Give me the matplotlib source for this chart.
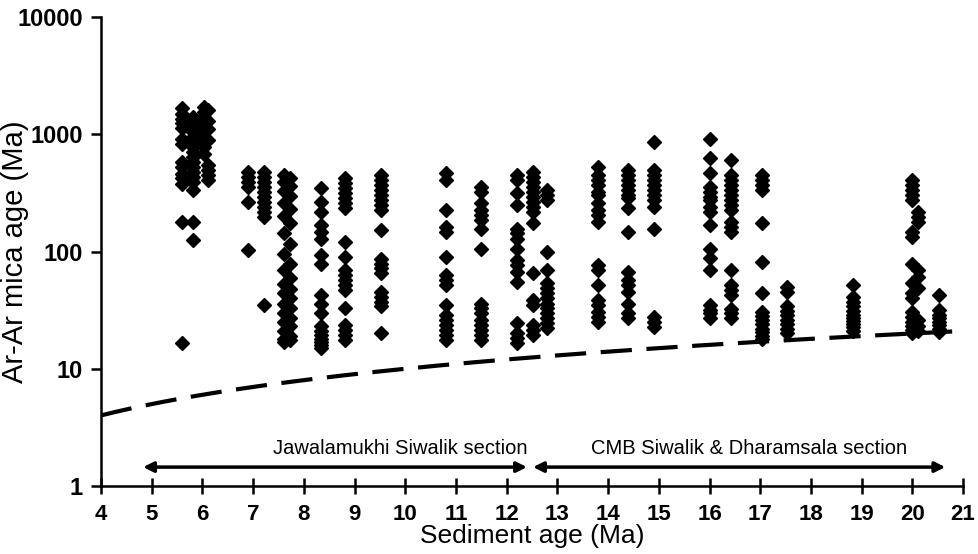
import numpy as np
import matplotlib
matplotlib.use("Agg")
from matplotlib import pyplot as plt
from matplotlib.ticker import FixedLocator, FixedFormatter, NullLocator

# Ar-Ar mica ages (Ma) per sample, keyed by sediment age (Ma)
c5_6 = [1660, 1500, 1360, 1240, 1120, 920, 830, 580, 530, 460, 420, 380, 180, 16.5]
c5_8 = [1410, 1275, 1160, 1050, 950, 860, 780, 710, 640, 580, 530, 478, 433, 393, 334, 180, 125]
c6_0 = [1710, 1550, 1410, 1275, 1160, 1050, 950, 860, 780, 685]
c6_1 = [1600, 1300, 1100, 900, 545, 494, 448, 406]
c6_9 = [478, 433, 393, 356, 265, 103]
c7_2 = [478, 433, 393, 356, 323, 292, 265, 240, 218, 197, 35]
c7_6 = [450, 390, 330, 257, 200, 143, 96, 69, 53, 44, 36, 30, 25, 21, 18, 17]
c7_7 = [420, 360, 300, 230, 174, 117, 79, 60, 48, 40, 33, 27, 23, 19, 17.5]
c8_3 = [345, 265, 218, 168, 147, 129, 93, 79, 42.5, 36, 30, 23, 21, 19.5, 18, 17, 16, 15]
c8_8 = [420, 381, 345, 313, 284, 257, 233, 121, 90, 69, 63, 57, 52, 47, 33, 23.6, 21.4, 19.4, 17.6]
c9_5 = [448, 406, 368, 334, 303, 274, 249, 226, 152, 87, 79, 72, 65, 45, 41, 37, 34, 20]
c10_8 = [463, 406, 226, 163, 147, 90, 63, 57, 52, 35, 28.7, 26, 23.6, 21.4, 19.4, 17.6]
c11_5 = [356, 323, 257, 226, 204, 185, 157, 106, 36, 33, 30, 26, 23.6, 21.4, 19.4, 17.6]
c12_2 = [448, 406, 313, 249, 157, 143, 129, 106, 84.5, 76.6, 67, 55, 24.4, 20, 18.2, 16.5]
c12_5 = [478, 433, 393, 356, 323, 292, 265, 240, 218, 174, 65, 38.5, 35, 23.6, 21.4, 19.4]
c12_8 = [334, 303, 274, 99, 69, 53.5, 48.5, 44, 40, 36, 33, 30, 27, 24.4, 22.1]
c13_8 = [527, 448, 406, 368, 323, 303, 257, 226, 204, 179, 76.6, 69, 52, 38.5, 35, 30.6, 27.7, 25.2]
c14_4 = [494, 448, 406, 368, 334, 303, 284, 233, 147, 67, 57, 52, 45, 36, 30, 27]
c14_9 = [860, 494, 448, 406, 368, 334, 303, 274, 240, 157, 27.7, 25.2, 22.8]
c16_0 = [920, 622, 463, 356, 323, 292, 274, 240, 218, 168, 106, 87.5, 69, 35, 31.8, 30, 27]
c16_4 = [601, 448, 406, 368, 334, 303, 274, 249, 226, 179, 163, 147, 69, 52, 47, 42.5, 32.5, 30, 27]
c17_0 = [448, 406, 368, 334, 174, 81.7, 44, 30.6, 28, 26, 24, 22, 20.5, 19, 18]
c17_5 = [50, 45, 34, 31, 28.5, 26, 24, 22, 20]
c18_8 = [52, 41, 37, 34, 31, 29, 27, 25.5, 24, 22.8, 21]
c20_0 = [406, 368, 334, 303, 274, 147, 133, 79, 53.5, 44, 40, 30.6, 27.7, 25, 23, 21.5, 20]
c20_1 = [218, 197, 179, 69, 60.5, 48.5, 26, 23, 21]
c20_5 = [42.5, 31.8, 29, 27, 25, 23.5, 22, 20.5]

sed_ages = [5.6, 5.82, 6.03, 6.1, 6.9, 7.22, 7.6, 7.72, 8.33, 8.82, 9.52, 10.81, 11.5,
            12.21, 12.51, 12.8, 13.81, 14.4, 14.91, 16.0, 16.43, 17.03, 17.52, 18.83,
            19.99, 20.12, 20.52]
mica_ages = [c5_6, c5_8, c6_0, c6_1, c6_9, c7_2, c7_6, c7_7, c8_3, c8_8, c9_5, c10_8, c11_5,
             c12_2, c12_5, c12_8, c13_8, c14_4, c14_9, c16_0, c16_4, c17_0, c17_5, c18_8,
             c20_0, c20_1, c20_5]

# zero lag-time line
lag_x = [4, 21]

y_ticks = [1, 10, 100, 1000, 10000]
y_labels = ["1", "10", "100", "1000", "10000"]
x_ticks = list(range(4, 22))

plt.rcParams['font.family'] = ['Liberation Sans', 'DejaVu Sans']

fig = plt.figure(figsize=(9.79, 5.54), dpi=100)
ax = fig.add_axes([0.1032, 0.1227, 0.8805, 0.8466])

xs = []
ys = []
for sx, ages in zip(sed_ages, mica_ages):
    xs += [sx] * len(ages)
    ys += ages
ax.plot(xs, ys, linestyle='none', marker='D', markersize=7, color='black', zorder=3)

lx = np.linspace(lag_x[0], lag_x[1], 200)
ax.plot(lx, lx, color='black', lw=3, linestyle=(0, (7.5, 3.5)), zorder=2)

ax.set_yscale('log')
ax.set_xlim(4, 21)
ax.set_ylim(1, 10000)
ax.yaxis.set_major_locator(FixedLocator(y_ticks))
ax.yaxis.set_major_formatter(FixedFormatter(y_labels))
ax.yaxis.set_minor_locator(NullLocator())
ax.set_xticks(x_ticks)

for s in ['top', 'right']:
    ax.spines[s].set_visible(False)
for s in ['left', 'bottom']:
    ax.spines[s].set_linewidth(1.8)
ax.tick_params(axis='y', direction='out', length=7, width=1.8, labelsize=17, pad=6)
ax.tick_params(axis='x', direction='inout', length=12, width=1.8, labelsize=16, pad=7)
for lab in ax.get_xticklabels() + ax.get_yticklabels():
    lab.set_fontweight('bold')

ax.set_xlabel("Sediment age (Ma)", fontsize=19)
ax.xaxis.set_label_coords(0.5, -0.082)
ax.set_ylabel("Ar-Ar mica age (Ma)", fontsize=21, va='center')
ax.yaxis.set_label_coords(-0.1, 0.5)

# section arrows
ax.annotate('', xy=(4.83, 1.45), xytext=(12.4, 1.45),
            arrowprops=dict(arrowstyle='<|-|>', color='black', lw=2.5, mutation_scale=15,
                            shrinkA=0, shrinkB=0))
ax.annotate('', xy=(12.52, 1.45), xytext=(20.65, 1.45),
            arrowprops=dict(arrowstyle='<|-|>', color='black', lw=2.5, mutation_scale=15,
                            shrinkA=0, shrinkB=0))
ax.text(9.9, 1.72, "Jawalamukhi Siwalik section", ha='center', va='bottom', fontsize=14.5)
ax.text(16.78, 1.72, "CMB Siwalik & Dharamsala section", ha='center', va='bottom', fontsize=14.5)

fig.savefig("out.png", dpi=100)
